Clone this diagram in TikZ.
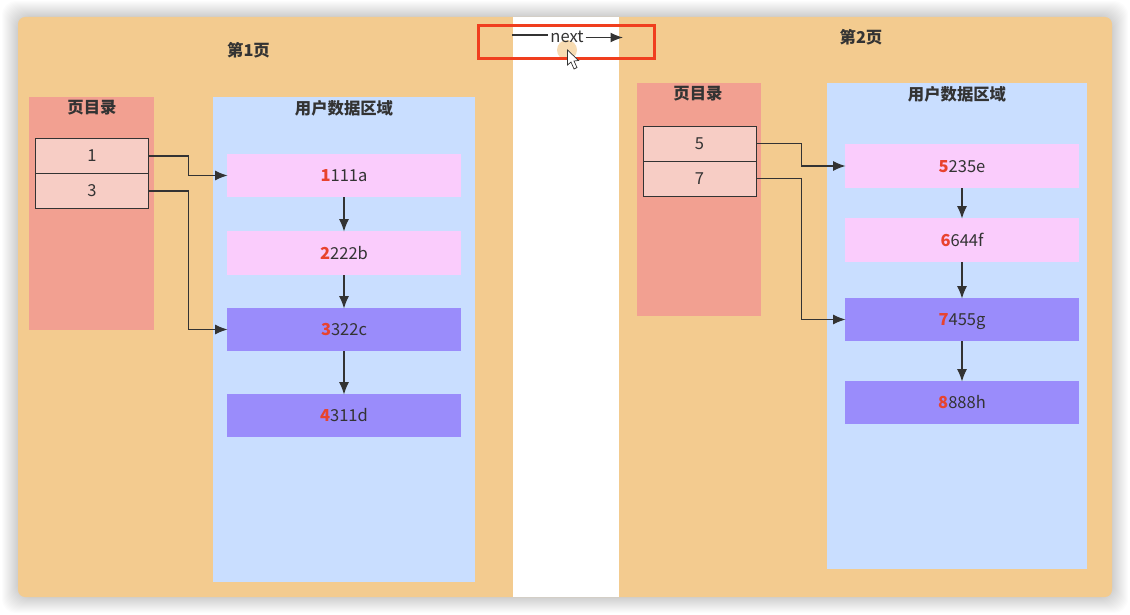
\documentclass[tikz,border=0pt]{standalone}
\usepackage{fontspec}
\setmainfont{Noto Sans CJK SC}
\usepackage{xcolor}
\usetikzlibrary{arrows.meta, positioning}
\definecolor{panelorange}{RGB}{243,203,143}
\definecolor{dirred}{RGB}{242,160,145}
\definecolor{userblue}{RGB}{201,222,255}
\definecolor{entrypink}{RGB}{247,205,197}
\definecolor{datapink}{RGB}{250,204,252}
\definecolor{datapurple}{RGB}{154,140,251}
\definecolor{digitred}{RGB}{232,67,46}
\definecolor{inkgray}{RGB}{51,51,51}
\definecolor{markred}{RGB}{240,62,30}
\newcommand{\dg}[1]{\textcolor{digitred}{\bfseries #1}}
\tikzset{
  size/.style 2 args={inner sep=0pt, minimum width=#1*0.02cm, minimum height=#2*0.02cm},
  txt/.style={font=\fontsize{9.4}{11}\selectfont, text=inkgray},
  title/.style={font=\fontsize{9.3}{11}\selectfont\bfseries, text=inkgray},
  dirbox/.style={fill=dirred},
  userbox/.style={fill=userblue},
  entry/.style={txt, draw=inkgray, line width=0.5pt, fill=entrypink},
  datalight/.style={txt, fill=datapink, text height=7.6pt, text depth=0.4pt},
  datadark/.style={txt, fill=datapurple, text height=7.6pt, text depth=0.4pt},
  link/.style={-{Latex[length=7pt,width=5.6pt]}, draw=inkgray, line width=0.6pt, shorten >=-0.5pt}
}

\begin{document}
\begin{tikzpicture}[x=0.02cm, y=-0.02cm]
  \useasboundingbox (0,0) rectangle (1130,615);
  \fill[white] (0,0) rectangle (1130,615);
  % window shadow
  \foreach \r in {1,...,16}
    \fill[black, opacity=0.012, rounded corners=8] (18-\r,17-\r) rectangle (1112+\r,597+\r);
  \fill[panelorange, rounded corners=4] (18,17) rectangle (1112,597);
  \fill[white] (513,17) rectangle (619,597);

  % Page 1
  \node[title] (page1) at (248.5,50.5) {第1页};
  \node[dirbox, size={125}{233}] (dir1) at (91.5,213.5) {};
  \node[title] (dir1t) at (92,108) {页目录};
  \node[userbox, size={262}{485}] (user1) at (344,339.5) {};
  \node[title] (user1t) at (344,108) {用户数据区域};

  \node[entry, size={113}{35}] (e1) at (92,156) {1};
  \node[entry, size={113}{35}] (e3) at (92,191) {3};

  \node[datalight, size={234}{43}] (d1) at (344,175.5) {\dg{1}111a};
  \node[datalight, size={234}{44}] (d2) at (344,253) {\dg{2}222b};
  \node[datadark, size={234}{43}] (d3) at (344,329.5) {\dg{3}322c};
  \node[datadark, size={234}{43}] (d4) at (344,415.5) {\dg{4}311d};

  \draw[link] (e1.east) -- ++(40,0) |- (d1.west);
  \draw[link] (e3.east) -- ++(40,0) |- (d3.west);
  \draw[link] (d1) -- (d2);
  \draw[link] (d2) -- (d3);
  \draw[link] (d3) -- (d4);

  % Page 2
  \node[title] (page2) at (861,37.5) {第2页};
  \node[dirbox, size={124}{233}] (dir2) at (699,199.5) {};
  \node[title] (dir2t) at (698,94) {页目录};
  \node[userbox, size={260}{486}] (user2) at (957,326) {};
  \node[title] (user2t) at (957,94) {用户数据区域};

  \node[entry, size={113}{35}] (e5) at (699.5,143.5) {5};
  \node[entry, size={113}{35}] (e7) at (699.5,178.5) {7};

  \node[datalight, size={234}{44}] (d5) at (962,166) {\dg{5}235e};
  \node[datalight, size={234}{44}] (d6) at (962,240) {\dg{6}644f};
  \node[datadark, size={234}{43}] (d7) at (962,319.5) {\dg{7}455g};
  \node[datadark, size={234}{43}] (d8) at (962,402.5) {\dg{8}888h};

  \draw[link] (e5.east) -- ++(45,0) |- (d5.west);
  \draw[link] (e7.east) -- ++(45,0) |- (d7.west);
  \draw[link] (d5) -- (d6);
  \draw[link] (d6) -- (d7);
  \draw[link] (d7) -- (d8);

  % next pointer
  \fill[panelorange!70!white] (567,50) circle (10);
  \node[txt, inner sep=1pt] (next) at (567,37) {next};
  \coordinate (nextfrom) at (512,35);
  \coordinate (nextto) at (622,37.5);
  \draw[draw=inkgray, line width=0.6pt] (nextfrom) -- (next.west |- nextfrom);
  \draw[link] (next.east |- nextto) -- (nextto);
  \draw[markred, line width=1.7pt] (478.5,25.5) rectangle (654.5,58.5);
  \draw[fill=white, draw=inkgray, line width=0.4pt]
    (567.5,50) -- (567.5,65) -- (571,62) -- (574,69) -- (577,67.5) -- (574,61) -- (578.5,60.5) -- cycle;
\end{tikzpicture}
\end{document}
